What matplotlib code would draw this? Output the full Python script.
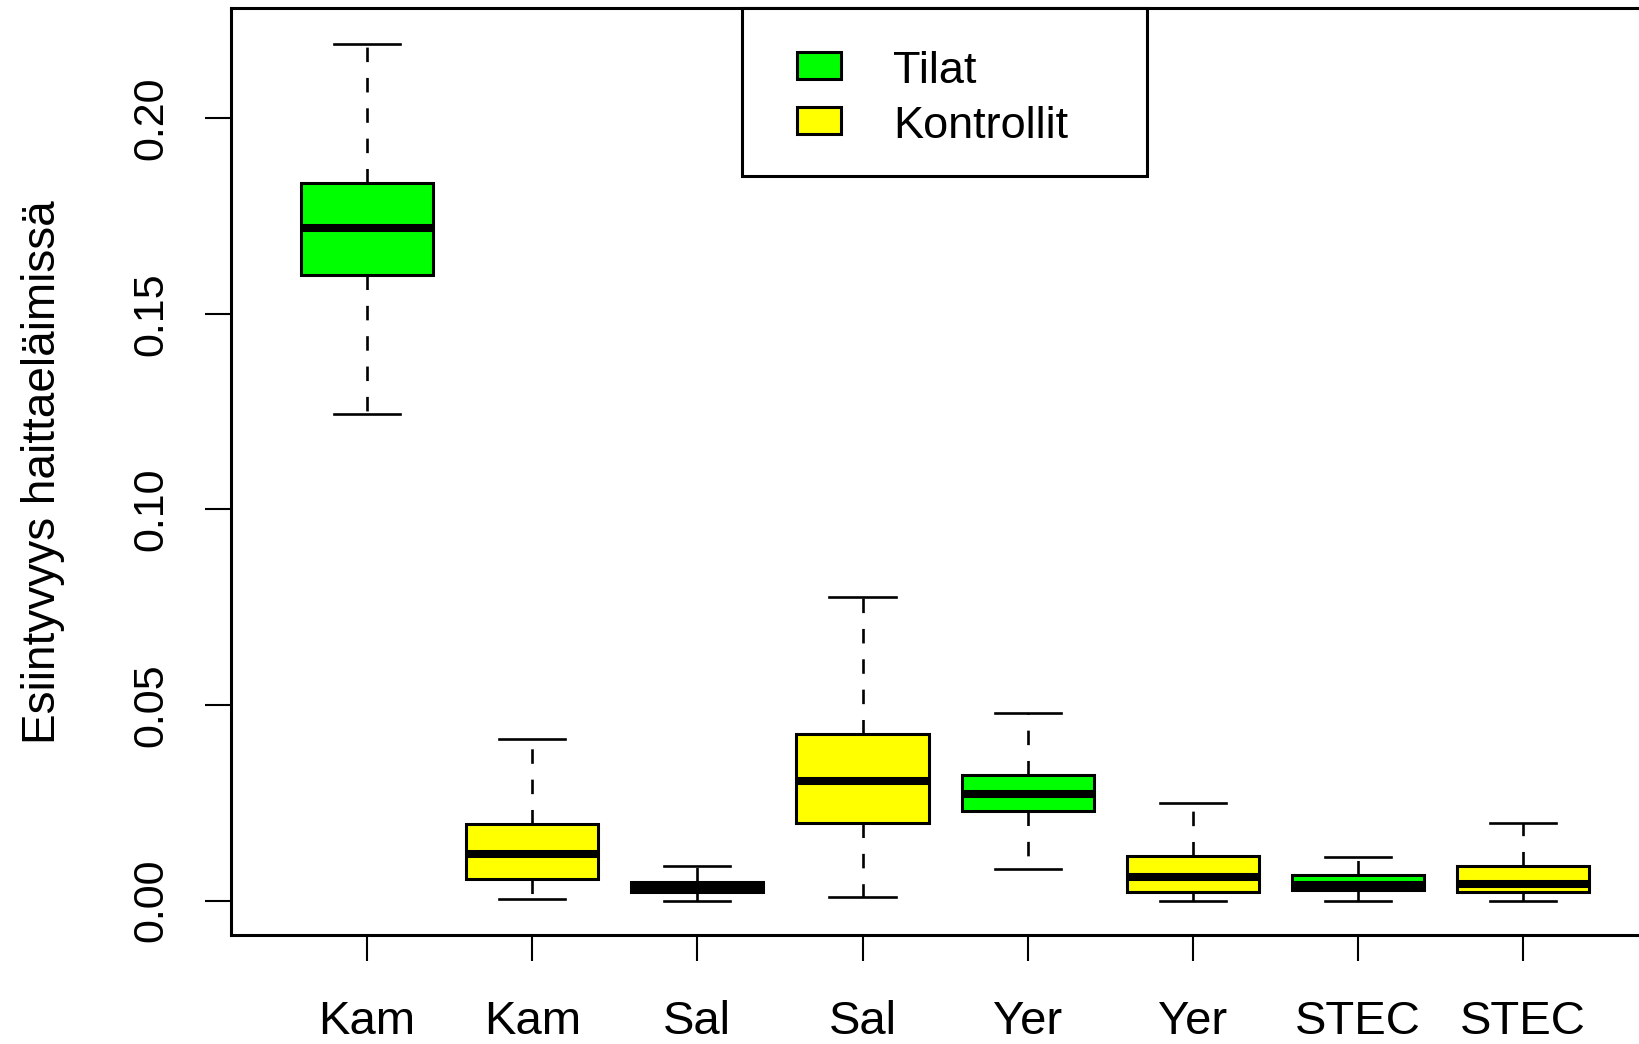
import matplotlib
matplotlib.use("Agg")
import matplotlib.pyplot as plt
from matplotlib.patches import Rectangle

plt.rcParams['font.family'] = ['Liberation Sans', 'DejaVu Sans']

# five-number summaries per group (Tilat / Kontrollit alternating)
labels = ["Kam", "Kam", "Sal", "Sal", "Yer", "Yer", "STEC", "STEC"]
whislo = [0.1243, 0.0005, 0.0000, 0.0008, 0.0080, 0.0000, 0.0000, 0.0000]
q1 = [0.1600, 0.0056, 0.0021, 0.0198, 0.0230, 0.0021, 0.0027, 0.0021]
med = [0.1719, 0.0118, 0.0034, 0.0305, 0.0273, 0.0061, 0.0039, 0.0042]
q3 = [0.1834, 0.0195, 0.0047, 0.0425, 0.0321, 0.0115, 0.0065, 0.0088]
whishi = [0.2190, 0.0412, 0.0088, 0.0775, 0.0479, 0.0249, 0.0110, 0.0197]
colors = ["#00FF00", "#FFFF00"] * 4
legend_labels = ["Tilat", "Kontrollit"]
yticks = [0.00, 0.05, 0.10, 0.15, 0.20]

W, H = 1640, 1044
fig = plt.figure(figsize=(W / 100, H / 100), dpi=100)
ax = fig.add_axes([231 / W, 1 - 935 / H, (W - 231 + 2) / W, (935 - 8.4) / H])

stats = []
for i in range(len(labels)):
    stats.append(dict(whislo=whislo[i], q1=q1[i], med=med[i], q3=q3[i],
                      whishi=whishi[i], fliers=[], label=labels[i]))

lw = 2.2
bp = ax.bxp(stats, positions=range(1, len(labels) + 1), widths=0.8,
            patch_artist=True, showfliers=False,
            boxprops=dict(linewidth=lw, edgecolor="black"),
            whiskerprops=dict(linewidth=1.9, linestyle=(0, (5.5, 6)), color="black"),
            capprops=dict(linewidth=1.9, color="black"),
            medianprops=dict(linewidth=5.8, color="black", solid_capstyle="butt"),
            capwidths=0.4)
for patch, c in zip(bp["boxes"], colors):
    patch.set_facecolor(c)

ax.set_xlim(0.176, 8.72)
ax.set_ylim(-0.00882, 0.2281)
ax.set_yticks(yticks)
ax.set_yticklabels([f"{v:.2f}" for v in yticks], rotation=90, va="center")
ax.set_xticks(range(1, len(labels) + 1))
ax.set_xticklabels(labels)
ax.tick_params(axis="both", length=19, width=1.5, color="black")
ax.tick_params(axis="y", labelsize=31, pad=24)
ax.tick_params(axis="x", labelsize=34, pad=28)
for s in ax.spines.values():
    s.set_linewidth(2.2)
ax.set_ylabel("Esiintyvyys haittaeläimissä", fontsize=33, labelpad=48)

# legend box drawn in figure pixels
def px(x, y):
    return x / W, 1 - y / H

lx0, ly0 = px(741.6, 175.7)
lx1, ly1 = px(1147.4, 8.4)
fig.patches.append(Rectangle((lx0, ly0), lx1 - lx0, ly1 - ly0, transform=fig.transFigure,
                             facecolor="white", edgecolor="black", linewidth=2.2, zorder=5))
for k, (lab, c) in enumerate(zip(legend_labels, colors[:2])):
    ya, yb = (79.0, 51.7) if k == 0 else (134.3, 106.7)
    x0, y0 = px(797, ya)
    x1, y1 = px(841, yb)
    fig.patches.append(Rectangle((x0, y0), x1 - x0, y1 - y0, transform=fig.transFigure,
                                 facecolor=c, edgecolor="black", linewidth=2.2, zorder=6))
    tx, ty = px(893, (ya + yb) / 2 + 6)
    fig.text(tx, ty, lab, fontsize=32.5, va="center", ha="left", zorder=7)

fig.savefig("out.png", dpi=100)
